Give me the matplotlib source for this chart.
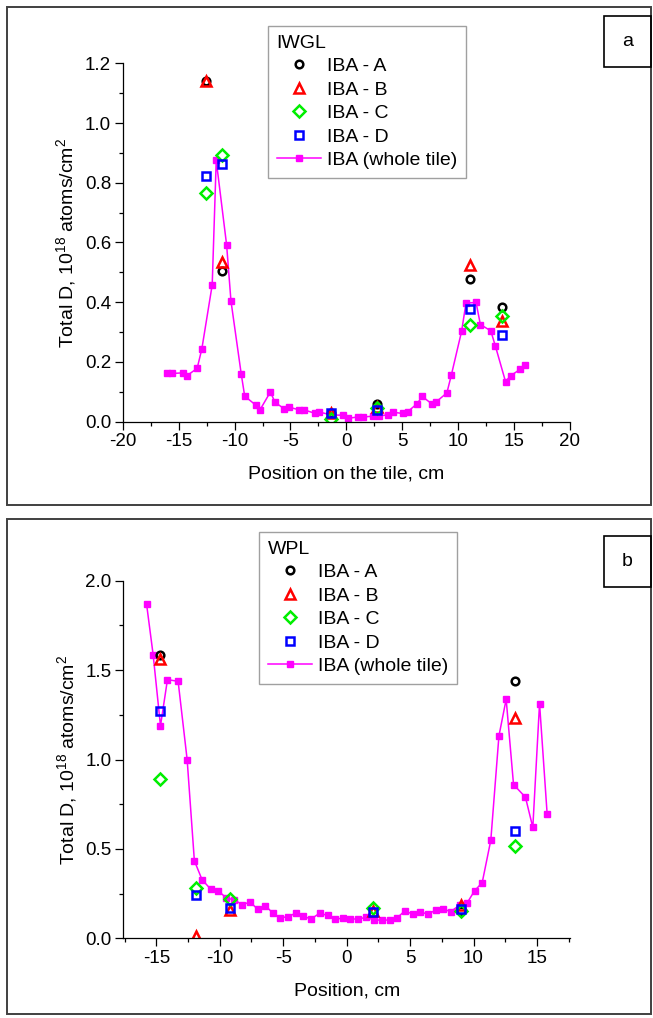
import matplotlib
matplotlib.use("Agg")
import matplotlib.pyplot as plt
from matplotlib.patches import Rectangle
from matplotlib.ticker import MultipleLocator, FormatStrFormatter

plt.rcParams["font.family"] = ["Liberation Sans", "DejaVu Sans"]
plt.rcParams["mathtext.default"] = "regular"
plt.rcParams["axes.unicode_minus"] = False

# ---- panel a: IWGL ----
iwgl_x = [-16.06, -15.6, -14.65, -14.26, -13.36, -12.94, -12.01, -11.65, -10.72, -10.33,
          -9.41, -9.1, -8.11, -7.73, -6.8, -6.38, -5.57, -5.12, -4.22, -3.77,
          -2.78, -2.43, -1.38, -0.33, 0.18, 1.02, 1.47, 2.43, 2.9, 3.77,
          4.16, 5.06, 5.5, 6.35, 6.8, 7.66, 8.06, 9.01, 9.41, 10.33,
          10.72, 11.62, 12.01, 12.94, 13.36, 14.26, 14.71, 15.57, 15.97]
iwgl_tile = [0.163, 0.161, 0.163, 0.154, 0.178, 0.243, 0.458, 0.875, 0.592, 0.404,
             0.159, 0.085, 0.055, 0.039, 0.099, 0.064, 0.043, 0.048, 0.039, 0.039,
             0.027, 0.032, 0.022, 0.021, 0.011, 0.015, 0.015, 0.018, 0.018, 0.023,
             0.031, 0.027, 0.033, 0.06, 0.084, 0.059, 0.066, 0.096, 0.156, 0.303,
             0.397, 0.399, 0.325, 0.304, 0.252, 0.134, 0.153, 0.175, 0.191]
iwgl_pos = [-12.55, -11.1, -1.38, 2.78, 11.12, 13.95]
iwgl_A = [1.143, 0.506, 0.03, 0.057, 0.476, 0.385]
iwgl_B = [1.14, 0.535, 0.03, 0.05, 0.523, 0.337]
iwgl_C = [0.765, 0.892, 0.008, 0.045, 0.322, 0.352]
iwgl_D = [0.824, 0.864, 0.028, 0.04, 0.378, 0.289]

# ---- panel b: WPL ----
wpl_x = [-15.77, -15.25, -14.67, -14.12, -13.28, -12.57, -12.0, -11.39, -10.71, -10.13,
         -9.47, -8.9, -8.21, -7.61, -7.0, -6.4, -5.8, -5.22, -4.59, -4.02,
         -3.41, -2.81, -2.13, -1.5, -0.89, -0.29, 0.29, 0.89, 1.55, 2.18,
         2.78, 3.41, 3.99, 4.59, 5.22, 5.8, 6.4, 7.01, 7.58, 8.21,
         8.9, 9.47, 10.08, 10.68, 11.36, 12.0, 12.57, 13.15, 14.09, 14.67,
         15.2, 15.8]
wpl_tile = [1.871, 1.587, 1.188, 1.447, 1.437, 1.0, 0.434, 0.327, 0.275, 0.266,
            0.225, 0.216, 0.188, 0.203, 0.162, 0.182, 0.14, 0.115, 0.121, 0.141,
            0.123, 0.108, 0.14, 0.128, 0.108, 0.112, 0.108, 0.108, 0.117, 0.102,
            0.102, 0.102, 0.115, 0.154, 0.134, 0.149, 0.134, 0.158, 0.164, 0.149,
            0.186, 0.195, 0.266, 0.311, 0.549, 1.132, 1.337, 0.86, 0.789, 0.62,
            1.313, 0.694]
wpl_pos = [-14.67, -11.9, -9.2, 2.07, 9.0, 13.28]
wpl_posA = [-14.67, 9.0, 13.28]
wpl_A = [1.587, 0.15, 1.437]
wpl_B = [1.56, 0.015, 0.16, 0.15, 0.185, 1.234]
wpl_C = [0.89, 0.28, 0.22, 0.17, 0.155, 0.517]
wpl_D = [1.27, 0.242, 0.168, 0.149, 0.165, 0.598]

W, H = 653, 1018
fig = plt.figure(figsize=(W / 100, H / 100), dpi=100)


def px_box(x0, y0, x1, y1):
    return [x0 / W, 1 - y1 / H, (x1 - x0) / W, (y1 - y0) / H]


def draw_panel(ax, tx, ty, series, title, xlabel, xlim, ylim, ymaj, ymin, legend_xy):
    tile, = ax.plot(tx, ty, "-s", color="#ff00ff", ms=4, lw=1.1, label="IBA (whole tile)")
    handles = []
    for (xs, ys, name, mk, col, ms) in series:
        h, = ax.plot(xs, ys, ls="none", marker=mk, mfc="none", mec=col, mew=1.8,
                     ms=ms, label=name)
        handles.append(h)
    handles.append(tile)

    ax.set_xlim(*xlim)
    ax.set_ylim(*ylim)
    ax.xaxis.set_major_locator(MultipleLocator(5))
    ax.xaxis.set_minor_locator(MultipleLocator(2.5))
    ax.yaxis.set_major_locator(MultipleLocator(ymaj))
    ax.yaxis.set_minor_locator(MultipleLocator(ymin))
    ax.yaxis.set_major_formatter(FormatStrFormatter("%.1f"))
    for s in ("top", "right"):
        ax.spines[s].set_visible(False)
    for s in ("left", "bottom"):
        ax.spines[s].set_linewidth(0.9)
    ax.tick_params(which="major", direction="out", length=5.5, width=0.9,
                   labelsize=13.5, pad=3)
    ax.tick_params(which="minor", direction="out", length=3, width=0.9)

    ax.set_xlabel(xlabel, fontsize=14, labelpad=11)
    ax.set_ylabel(r"Total D, 10$^{18}$ atoms/cm$^{2}$", fontsize=14)
    ax.yaxis.set_label_coords(-0.1, 0.5)

    leg = ax.legend(handles=handles, title=title, alignment="left",
                    loc="upper left", bbox_to_anchor=legend_xy,
                    bbox_transform=fig.transFigure, borderaxespad=0,
                    fontsize=14, title_fontsize=14, fancybox=False,
                    framealpha=1, edgecolor="#a0a0a0", labelspacing=0.3,
                    handlelength=2.3, handletextpad=0.3, borderpad=0.45)
    leg.get_frame().set_linewidth(1.0)


marker_spec = [("IBA - A", "o", "black", 5.5), ("IBA - B", "^", "red", 7),
               ("IBA - C", "D", "#00ee00", 6), ("IBA - D", "s", "blue", 6)]

ax_a = fig.add_axes(px_box(123, 63.5, 569.6, 421.5))
ser_a = [(iwgl_pos, v, *marker_spec[i]) for i, v in
         enumerate([iwgl_A, iwgl_B, iwgl_C, iwgl_D])]
draw_panel(ax_a, iwgl_x, iwgl_tile, ser_a, "IWGL", "Position on the tile, cm",
           (-20, 20), (0, 1.2), 0.2, 0.1, (268 / W, 1 - 26 / H))

ax_b = fig.add_axes(px_box(123.3, 580.7, 570, 938.3))
ser_b = [(wpl_posA, wpl_A, *marker_spec[0])] + \
        [(wpl_pos, v, *marker_spec[i + 1]) for i, v in enumerate([wpl_B, wpl_C, wpl_D])]
draw_panel(ax_b, wpl_x, wpl_tile, ser_b, "WPL", "Position, cm",
           (-17.6, 17.6), (0, 2.0), 0.5, 0.25, (259 / W, 1 - 532 / H))

# outer frames and panel tags
for (x0, y0, x1, y1) in [(7, 7, 651, 505), (7, 519, 651, 1014)]:
    fig.add_artist(Rectangle((x0 / W, 1 - y1 / H), (x1 - x0) / W, (y1 - y0) / H,
                             transform=fig.transFigure, fill=False,
                             edgecolor="#404040", linewidth=1.4))
for (x0, y0, x1, y1, tag) in [(604, 16, 651, 67, "a"), (604, 536, 651, 587, "b")]:
    fig.add_artist(Rectangle((x0 / W, 1 - y1 / H), (x1 - x0) / W, (y1 - y0) / H,
                             transform=fig.transFigure, fill=False,
                             edgecolor="black", linewidth=1.2))
    fig.text((x0 + x1) / 2 / W, 1 - (y0 + y1) / 2 / H, tag, ha="center",
             va="center", fontsize=14)

fig.savefig("out.png", dpi=100)
